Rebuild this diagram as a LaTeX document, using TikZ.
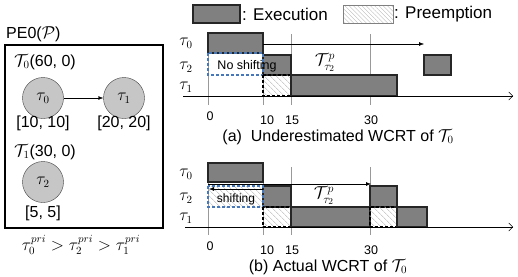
\documentclass[tikz,border=0pt]{standalone}
\usepackage{amsmath}
\usepackage{fontspec}
\setmainfont{Liberation Sans}
\usetikzlibrary{
	arrows.meta,
	patterns.meta,
	positioning
}
\definecolor{shiftblue}{RGB}{70,120,185}
\tikzset{
	execbox/.style={draw=black!85, line width=1.1pt, fill=gray},
	preemptbox/.style={draw=black, line width=1.1pt, dash pattern=on 3pt off 2pt,
		pattern={Lines[angle=-45,distance=4pt,line width=0.6pt]}, pattern color=gray!60},
	shiftbox/.style={draw=shiftblue, line width=1.2pt, dash pattern=on 3pt off 2pt},
	gridline/.style={draw=gray!80, line width=0.5pt},
	task/.style={circle, draw=black!75, fill=gray!45, minimum size=41pt, inner sep=0pt, font=\fontsize{16}{18}\selectfont},
	lbl/.style={font=\fontsize{16}{18}\selectfont, inner sep=1pt},
	ticklab/.style={font=\fontsize{12.5}{14}\selectfont, inner sep=0pt},
	rowlab/.style={font=\fontsize{16}{18}\selectfont, inner sep=0pt}
}
\begin{document}
\begin{tikzpicture}[x=1pt, y=-1pt]
		\useasboundingbox (0,0) rectangle (518,276);
		% left panel
		\node[lbl, anchor=west] (pe) at (5,34) {PE0($\mathcal{P}$)};
		\draw[line width=1.5pt] (5,45) rectangle (163,228);
		\node[lbl, anchor=west] (g0) at (13,62) {$\mathcal{T}_0$(60, 0)};
		\node[task] (c0) at (43,98) {$\tau_0$};
		\node[task] (c1) at (124,98) {$\tau_1$};
		\draw[-{Latex[length=5pt]}, thin] (c0) -- (c1);
		\node[lbl] (w0) at (43,123) {[10, 10]};
		\node[lbl] (w1) at (124,123) {[20, 20]};
		\node[lbl, anchor=west] (g1) at (13,152) {$\mathcal{T}_1$(30, 0)};
		\node[task] (c2) at (43,182) {$\tau_2$};
		\node[lbl] (w2) at (43,213) {[5, 5]};
		\node[lbl] (prio) at (81,245) {$\tau_0^{pri} > \tau_2^{pri} > \tau_1^{pri}$};
		% legend
		\draw[execbox] (193,5) rectangle (240,23);
		\node[lbl, anchor=west, font=\fontsize{17}{19}\selectfont] (lexec) at (241,14) {: Execution};
		\draw[draw=gray, pattern={Lines[angle=-45,distance=3pt,line width=0.4pt]}, pattern color=gray!55] (343,5) rectangle (393,23);
		\node[lbl, anchor=west, font=\fontsize{17}{19}\selectfont] (lpre) at (393,14) {: Preemption};
		% (a) underestimated
		\foreach \x/\t/\ty/\lab in {208/210/116/0, 263/267/120/10, 291/292/120/15, 370/371/120/30}{
			\draw[gridline] (\x,34) -- (\x,105);
			\node[ticklab] (ta\lab) at (\t,\ty) {\lab};
		}
		\node[rowlab] (ra0) at (186,43) {$\tau_0$};
		\node[rowlab] (ra2) at (186,67) {$\tau_2$};
		\node[rowlab] (ra1) at (186,87) {$\tau_1$};
		\draw[execbox] (208,33) rectangle (263,53);
		\draw[execbox] (263,55) rectangle (291,75);
		\draw[shiftbox] (208,53) rectangle (263,75);
		\draw[preemptbox] (263,75) rectangle (291,96);
		\draw[execbox] (291,75) rectangle (397,96);
		\draw[execbox] (424,55) rectangle (451,75);
		\node[font=\fontsize{12.5}{14}\selectfont, inner sep=0pt] (nos) at (247,66) {No shifting};
		\coordinate (pa-s) at (263,44);
		\coordinate (pa-e) at (424,44);
		\draw[-{Latex[length=5pt]}, thin] (pa-s) -- (pa-e);
		\node[lbl, font=\fontsize{18}{20}\selectfont] (tpa) at (325,63) {$\mathcal{T}^{p}_{\tau_2}$};
		\coordinate (axa-s) at (183,96);
		\coordinate (axa-e) at (513,96);
		\draw[-{Straight Barb[length=4pt]}, thin] (axa-s) -- (axa-e);
		\node[lbl] (capa) at (338,137) {(a)\ \ Underestimated WCRT of $\mathcal{T}_0$};
		% (b) actual
		\foreach \x/\t/\ty/\lab in {208/210/246/0, 263/267/250/10, 291/292/250/15, 370/371/250/30}{
			\draw[gridline] (\x,167) -- (\x,235);
			\node[ticklab] (tb\lab) at (\t,\ty) {\lab};
		}
		\node[rowlab] (rb0) at (186,174) {$\tau_0$};
		\node[rowlab] (rb2) at (186,198) {$\tau_2$};
		\node[rowlab] (rb1) at (186,218) {$\tau_1$};
		\draw[execbox] (208,163) rectangle (263,182);
		\draw[execbox] (263,186) rectangle (291,207);
		\draw[shiftbox, pattern={Lines[angle=-45,distance=4pt,line width=0.6pt]}, pattern color=gray!60] (208,186) rectangle (263,207);
		\draw[preemptbox] (263,207) rectangle (291,227);
		\draw[execbox] (291,207) rectangle (370,227);
		\draw[execbox] (370,186) rectangle (397,207);
		\draw[preemptbox] (370,207) rectangle (397,227);
		\draw[execbox] (397,207) rectangle (427,227);
		\node[font=\fontsize{12}{14}\selectfont, inner sep=0pt] (shf) at (236,199) {shifting};
		\coordinate (sh-s) at (263,189);
		\coordinate (sh-e) at (209,189);
		\draw[-{Latex[length=5pt]}, thin] (sh-s) -- (sh-e);
		\coordinate (pb-s) at (208,184);
		\coordinate (pb-e) at (371,184);
		\draw[-{Latex[length=5pt]}, thin] (pb-s) -- (pb-e);
		\node[lbl, font=\fontsize{18}{20}\selectfont] (tpb) at (324,196) {$\mathcal{T}^{p}_{\tau_2}$};
		\coordinate (axb-s) at (185,227);
		\coordinate (axb-e) at (513,227);
		\draw[-{Straight Barb[length=4pt]}, thin] (axb-s) -- (axb-e);
		\node[lbl] (capb) at (328,267) {(b) Actual WCRT of $\mathcal{T}_0$};
	\end{tikzpicture}
\end{document}
